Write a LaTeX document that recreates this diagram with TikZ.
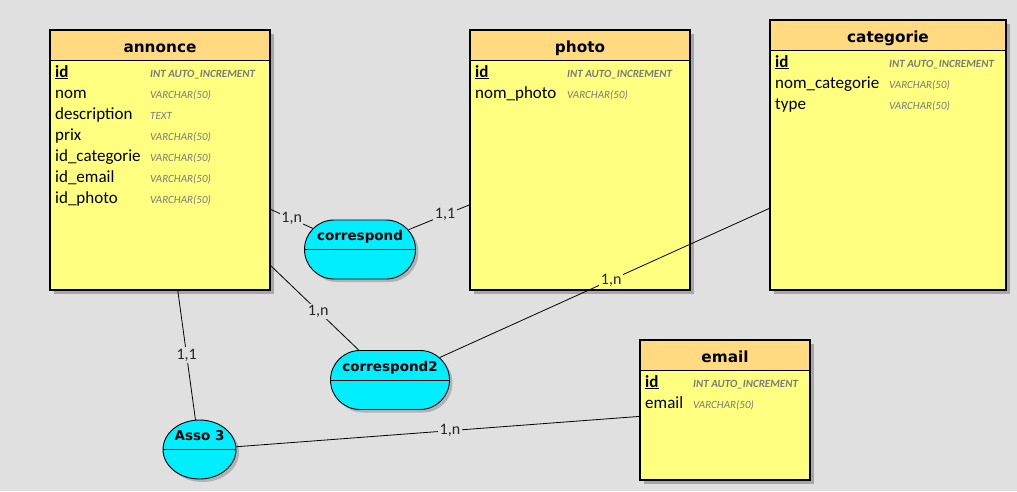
\documentclass[tikz,border=0pt]{standalone}
\usepackage{fontspec}
\setmainfont{Carlito}
\newfontfamily\hdrfont{DejaVu Sans}
\usetikzlibrary{shapes.misc,shapes.geometric,shadows,calc}
\definecolor{bg}{HTML}{E0E0E0}
\definecolor{hdrcol}{HTML}{FFDA80}
\definecolor{bodycol}{HTML}{FFFF80}
\definecolor{assoc}{HTML}{00EEFF}
\definecolor{typecol}{HTML}{7A7A7A}
\tikzset{
  entity/.style={rectangle, draw=black, line width=1.1pt, fill=bodycol, inner sep=0pt,
    drop shadow={shadow xshift=4pt, shadow yshift=-4pt, fill=black!35, opacity=1},
    path picture={\fill[hdrcol] (path picture bounding box.north west) rectangle ([yshift=-30pt]path picture bounding box.north east);
      \draw[line width=1pt] ([yshift=-30pt]path picture bounding box.north west) -- ([yshift=-30pt]path picture bounding box.north east);}},
  hname/.style={anchor=base, inner sep=0pt, font=\hdrfont\bfseries\fontsize{15.3}{18}\selectfont},
  fname/.style={anchor=base west, inner sep=0pt, font=\fontsize{17}{18}\selectfont},
  tname/.style={anchor=base west, inner sep=0pt, text=typecol, font=\itshape\fontsize{11}{12}\selectfont},
  tkey/.style={tname, font=\bfseries\itshape\fontsize{11}{12}\selectfont},
  assocbox/.style={draw=black, line width=0.9pt, fill=assoc, inner sep=0pt, minimum height=59pt,
    drop shadow={shadow xshift=3pt, shadow yshift=-3pt, fill=black!30, opacity=1}},
  aname/.style={anchor=base, inner sep=0pt, font=\hdrfont\bfseries\fontsize{13.5}{16}\selectfont},
  conn/.style={draw=black, line width=0.8pt},
  lab/.style={fill=bg, inner sep=1.5pt, text=black!85, font=\fontsize{16}{16}\selectfont},
}
\begin{document}
\begin{tikzpicture}[x=1pt,y=-1pt]
\fill[bg] (0,0) rectangle (1017,491);
\useasboundingbox (0,0) rectangle (1017,491);

% entities
\node[entity, minimum width=220pt, minimum height=260pt] (annonce) at (160,160) {};
\node[entity, minimum width=220pt, minimum height=260pt] (photo) at (580,160) {};
\node[entity, minimum width=236pt, minimum height=270pt] (categorie) at (888,155) {};
\node[entity, minimum width=170pt, minimum height=140pt] (email) at (725,410) {};

% annonce
\node[hname] (annonceH) at (160,52) {annonce};
\node[fname] (a1) at (55,77) {\textbf{\underline{id}}};
\node[tkey] (a1t) at (150,77) {INT AUTO\_INCREMENT};
\node[fname] (a2) at (55,98) {nom};
\node[tname] (a2t) at (150,98) {VARCHAR(50)};
\node[fname] (a3) at (55,119) {description};
\node[tname] (a3t) at (150,119) {TEXT};
\node[fname] (a4) at (55,140) {prix};
\node[tname] (a4t) at (150,140) {VARCHAR(50)};
\node[fname] (a5) at (55,161) {id\_categorie};
\node[tname] (a5t) at (150,161) {VARCHAR(50)};
\node[fname] (a6) at (55,182) {id\_email};
\node[tname] (a6t) at (150,182) {VARCHAR(50)};
\node[fname] (a7) at (55,203) {id\_photo};
\node[tname] (a7t) at (150,203) {VARCHAR(50)};

% photo
\node[hname] (photoH) at (580,52) {photo};
\node[fname] (p1) at (475,77) {\textbf{\underline{id}}};
\node[tkey] (p1t) at (567,77) {INT AUTO\_INCREMENT};
\node[fname] (p2) at (475,98) {nom\_photo};
\node[tname] (p2t) at (567,98) {VARCHAR(50)};

% categorie
\node[hname] (categorieH) at (888,42) {categorie};
\node[fname] (c1) at (775,67) {\textbf{\underline{id}}};
\node[tkey] (c1t) at (889,67) {INT AUTO\_INCREMENT};
\node[fname] (c2) at (775,88) {nom\_categorie};
\node[tname] (c2t) at (889,88) {VARCHAR(50)};
\node[fname] (c3) at (775,109) {type};
\node[tname] (c3t) at (889,109) {VARCHAR(50)};

% email
\node[hname] (emailH) at (725,362) {email};
\node[fname] (e1) at (645,387) {\textbf{\underline{id}}};
\node[tkey] (e1t) at (693,387) {INT AUTO\_INCREMENT};
\node[fname] (e2) at (645,408) {email};
\node[tname] (e2t) at (693,408) {VARCHAR(50)};

% associations
\node[assocbox, rounded rectangle, minimum width=111pt] (correspond) at (360,249.5) {};
\node[assocbox, rounded rectangle, minimum width=119pt] (correspond2) at (390,380) {};
\node[assocbox, ellipse, minimum width=73pt] (asso3) at (199.5,449.5) {};
\draw[line width=0.9pt] (correspond.west) -- (correspond.east);
\draw[line width=0.9pt] (correspond2.west) -- (correspond2.east);
\draw[line width=0.9pt] (asso3.west) -- (asso3.east);
\node[aname] (correspondT) at (360,240.5) {correspond};
\node[aname] (correspond2T) at (390,371) {correspond2};
\node[aname] (asso3T) at (199.5,440.5) {Asso 3};

% connectors
\draw[conn] (annonce) -- node[lab, pos=0.5] {1,n} (correspond);
\draw[conn] (correspond) -- node[lab, pos=0.6] {1,1} (photo);
\draw[conn] (annonce) -- node[lab, pos=0.54] {1,n} (correspond2);
\draw[conn] (correspond2) -- node[lab, fill=bodycol, pos=0.52] {1,n} (categorie);
\draw[conn] (annonce) -- node[lab, pos=0.5] {1,1} (asso3);
\draw[conn] (asso3) -- node[lab, pos=0.53] {1,n} (email);
\end{tikzpicture}
\end{document}
